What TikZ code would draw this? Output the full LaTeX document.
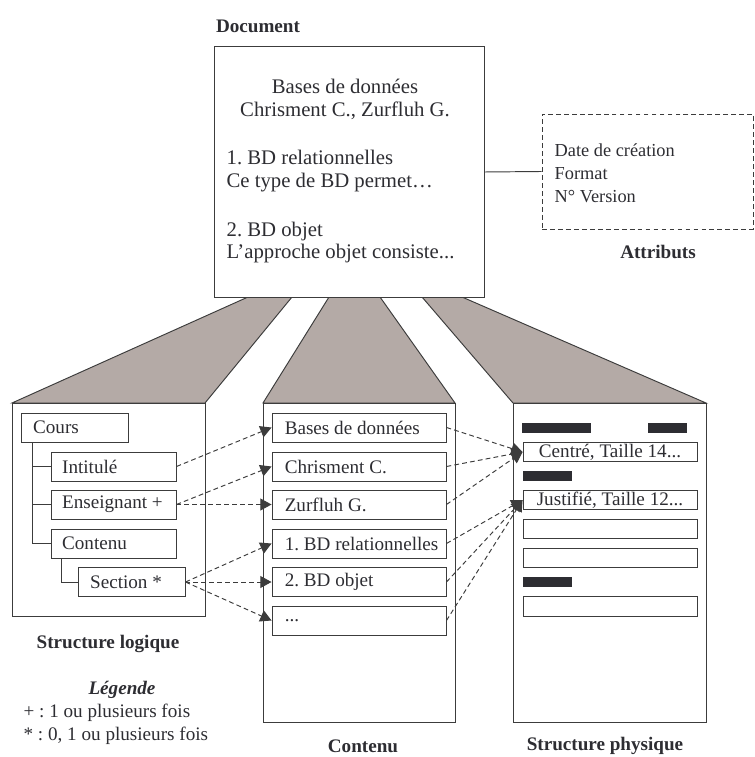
\documentclass[tikz,border=0pt]{standalone}
\usepackage{fontspec}
\setmainfont{Liberation Serif}
\usetikzlibrary{arrows.meta}
\frenchspacing

\definecolor{taupe}{RGB}{180,170,166}
\definecolor{trait}{RGB}{60,60,60}
\definecolor{encre}{RGB}{45,45,50}
\newcommand{\corps}{\fontsize{12}{14.4}\selectfont}
\newcommand{\grand}{\fontsize{13}{14.4}\selectfont}

\tikzset{
	cadre/.style={draw=trait, line width=0.6pt},
	volet/.style={cadre, fill=taupe},
	boite/.style={cadre, minimum height=18.2pt, inner ysep=0pt, align=flush left},
	arbre/.style={boite, inner xsep=7pt, text width=64.4pt},
	arbrec/.style={boite, inner xsep=7pt, text width=52.5pt},
	texte/.style={boite, inner xsep=8pt, text width=93.1pt},
	mise/.style={cadre, minimum width=109.1pt, minimum height=12.5pt, inner sep=0pt},
	lien/.style={draw=trait, line width=0.6pt, dash pattern=on 3pt off 2pt, -{Triangle[length=7pt,width=7.5pt]}},
	titre/.style={font=\corps\bfseries},
}

\begin{document}
\begin{tikzpicture}[x=0.627pt, y=-0.627pt, font=\corps, text=encre]
	\useasboundingbox (0,0) rectangle (754,757);

	%volets
	\filldraw[volet] (248,297)--(292,297)--(205,403)--(12,403)--cycle;
	\filldraw[volet] (329,297)--(380,297)--(455,403)--(263,403)--cycle;
	\filldraw[volet] (422,297)--(462,297)--(706,403)--(513,403)--cycle;

	%cadres
	\draw[cadre] (12,403) rectangle (205,616);
	\draw[cadre] (263,403) rectangle (455,722);
	\draw[cadre] (513,403) rectangle (706,722);

	%document et attributs
	\node[cadre, fill=white, minimum width=169.3pt, minimum height=156.8pt] (doc) at (349,172) {};
	\node[cadre, dash pattern=on 3pt off 2pt, minimum width=132.3pt, minimum height=72.1pt] (attr) at (647.5,171.5) {};
	\draw[cadre] (doc.east) -- (attr.west);
	\node[font=\grand, align=center] (entete) at (345,99) {Bases de données\\Chrisment C., Zurfluh G.};
	\node[font=\grand, align=left, anchor=west] (partie1) at (221,171.5) {1. BD relationnelles\\Ce type de BD permet…};
	\node[font=\grand, align=left, anchor=west] (partie2) at (221,242.5) {2. BD objet\\L’approche objet consiste...};
	\node[font=\fontsize{11.5}{14.4}\selectfont, align=left, anchor=west] (proprietes) at (549,173) {Date de création\\Format\\N° Version};

	%titres
	\node[titre] (ltdoc) at (258,26) {Document};
	\node[titre] (ltattr) at (658,252) {Attributs};
	\node[titre] (ltlog) at (108,644) {Structure logique};
	\node[titre] (ltcont) at (363,746) {Contenu};
	\node[titre] (ltphys) at (605,746) {Structure physique};
	\node[font=\corps\bfseries\itshape] (ltleg) at (122,690) {Légende};
	\node[align=left, anchor=west] (legende) at (18,724) {+ : 1 ou plusieurs fois\\* : 0, 1 ou plusieurs fois};

	%structure logique
	\node[arbrec] (cours) at (75,427.5) {Cours};
	\node[arbre] (intitule) at (113.5,466.5) {Intitulé};
	\node[arbre] (enseignant) at (113.5,504.5) {Enseignant +};
	\node[arbre] (contenu) at (113.5,543.5) {Contenu};
	\node[arbrec] (section) at (132,582) {Section *};
	\coordinate (tronc) at (32,442);
	\coordinate (rameau) at (61,558);
	\draw[cadre] (tronc) |- (contenu.west);
	\draw[cadre] (tronc |- intitule.west) -- (intitule.west);
	\draw[cadre] (tronc |- enseignant.west) -- (enseignant.west);
	\draw[cadre] (rameau) |- (section.west);

	%contenu
	\node[texte] (titreb) at (359,427.5) {Bases de données};
	\node[texte] (auteur1) at (359,466.5) {Chrisment C.};
	\node[texte] (auteur2) at (359,504.5) {Zurfluh G.};
	\node[texte] (sect1) at (359,543.5) {\mbox{1. BD relationnelles}};
	\node[texte] (sect2) at (359,582) {2. BD objet};
	\node[texte] (suite) at (359,620.5) {...};

	%structure physique
	\fill[encre] (522,423) rectangle (591,433);
	\fill[encre] (648,423) rectangle (687,433);
	\fill[encre] (523,471) rectangle (572,481);
	\fill[encre] (523,577) rectangle (572,587);
	\node[mise] (centre) at (610,452) {Centré, Taille 14...};
	\node[mise] (justifie) at (610,500) {Justifié, Taille 12...};
	\node[mise] (vide1) at (610,529) {};
	\node[mise] (vide2) at (610,558) {};
	\node[mise] (vide3) at (610,606.5) {};

	%liens
	\draw[lien] (intitule.east) -- (titreb.west);
	\draw[lien] (enseignant.east) -- (auteur1.west);
	\draw[lien] (enseignant.east) -- (auteur2.west);
	\draw[lien] (section.east) -- (sect1.west);
	\draw[lien] (section.east) -- (sect2.west);
	\draw[lien] (section.east) -- (suite.west);
	\draw[lien] (titreb.east) -- (centre.west);
	\draw[lien] (auteur1.east) -- (centre.west);
	\draw[lien] (auteur2.east) -- (centre.west);
	\draw[lien] (sect1.east) -- (justifie.west);
	\draw[lien] (sect2.east) -- (justifie.west);
	\draw[lien] (suite.east) -- (justifie.west);
\end{tikzpicture}
\end{document}
